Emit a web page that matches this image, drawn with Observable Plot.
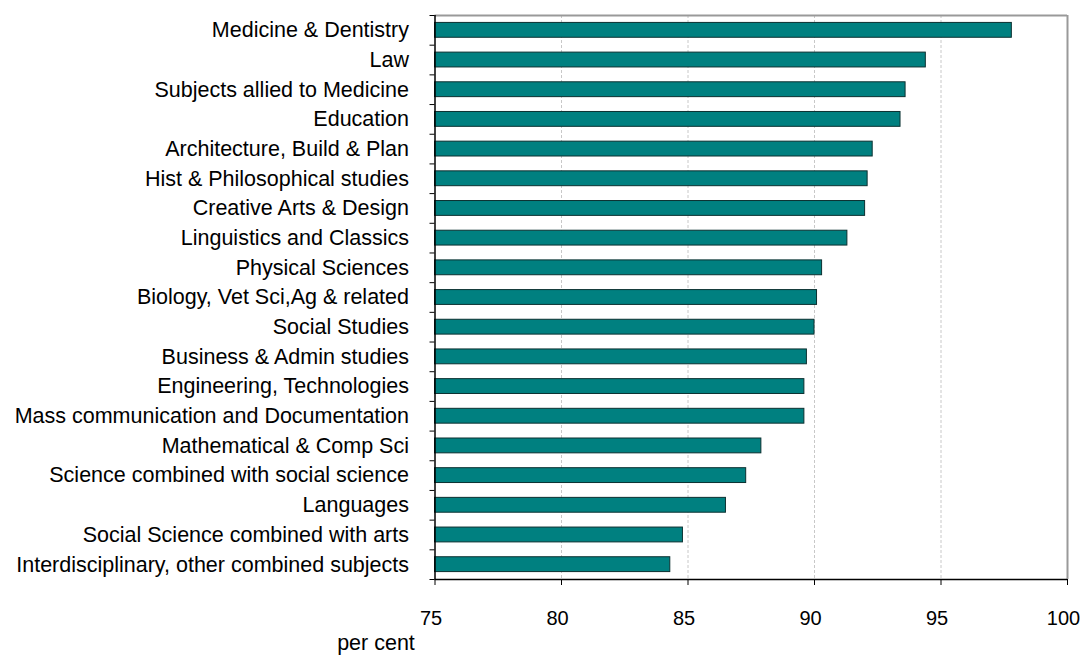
<!DOCTYPE html>
<html><head><meta charset="utf-8">
<script src="https://cdn.jsdelivr.net/npm/d3@7"></script>
<script src="https://cdn.jsdelivr.net/npm/@observablehq/plot@0.6"></script>
<style>body{margin:0;background:#fff}</style>
</head><body><div id="chart"></div>
<script>
const categories = [
  "Medicine & Dentistry",
  "Law",
  "Subjects allied to Medicine",
  "Education",
  "Architecture, Build & Plan",
  "Hist & Philosophical studies",
  "Creative Arts & Design",
  "Linguistics and Classics",
  "Physical Sciences",
  "Biology, Vet Sci,Ag & related",
  "Social Studies",
  "Business & Admin studies",
  "Engineering, Technologies",
  "Mass communication and Documentation",
  "Mathematical & Comp Sci",
  "Science combined with social science",
  "Languages",
  "Social Science combined with arts",
  "Interdisciplinary, other combined subjects"
];
const values = [97.8, 94.4, 93.6, 93.4, 92.3, 92.1, 92.0, 91.3, 90.3, 90.1, 90.0, 89.7, 89.6, 89.6, 87.9, 87.3, 86.5, 84.8, 84.3];
const xTicks = [75, 80, 85, 90, 95, 100];
const xLabel = "per cent";

const data = categories.map((c, i) => ({subject: c, value: values[i]}));
const W = 1081, H = 657, MT = 15, MB = 78, ML = 434.5, MR = 14;
const step = (H - MT - MB) / categories.length;
const font = "'Liberation Sans', Arial, sans-serif";

const chart = Plot.plot({
  width: W, height: H,
  marginTop: MT, marginBottom: MB, marginLeft: ML, marginRight: MR,
  style: {fontFamily: font, fontSize: "21.5px", color: "#000", background: "#fff"},
  x: {domain: [75, 100], ticks: xTicks},
  y: {domain: categories, paddingInner: 0.5, paddingOuter: 0.25, round: false},
  marks: [
    Plot.gridX(xTicks.slice(1, -1), {stroke: "#c8c8c8", strokeOpacity: 1, strokeDasharray: "3,2"}),
    Plot.barX(data, {x1: 75, x2: "value", y: "subject", fill: "#008080", stroke: "#0b3030", strokeWidth: 1}),
    Plot.ruleX([100], {stroke: "#999", strokeWidth: 2}),
    Plot.ruleY([categories[0]], {dy: -step / 2, stroke: "#999", strokeWidth: 2}),
    Plot.ruleX([75], {stroke: "#000", strokeWidth: 1.5}),
    Plot.ruleY([categories[categories.length - 1]], {dy: step / 2, stroke: "#000", strokeWidth: 1.5}),
    Plot.axisY({tickSize: 5, dy: -step / 2, tickFormat: () => "", label: null, stroke: "#000"}),
    Plot.axisY([categories[categories.length - 1]], {tickSize: 5, dy: step / 2, tickFormat: () => "", label: null, stroke: "#000"}),
    Plot.axisY({tickSize: 0, tickPadding: 26, label: null, fontSize: 21.5}),
    Plot.axisX(xTicks, {tickSize: 6, tickFormat: () => "", label: null, stroke: "#000"}),
    Plot.axisX(xTicks, {tickSize: 0, tickPadding: 31, dx: -4, label: null, fontSize: 20}),
    Plot.text([xLabel], {frameAnchor: "bottom-left", textAnchor: "middle", lineAnchor: "middle", dx: -59, dy: 64, fontSize: 21.5, fill: "#000"})
  ]
});
document.getElementById("chart").appendChild(chart);
</script>
</body></html>
